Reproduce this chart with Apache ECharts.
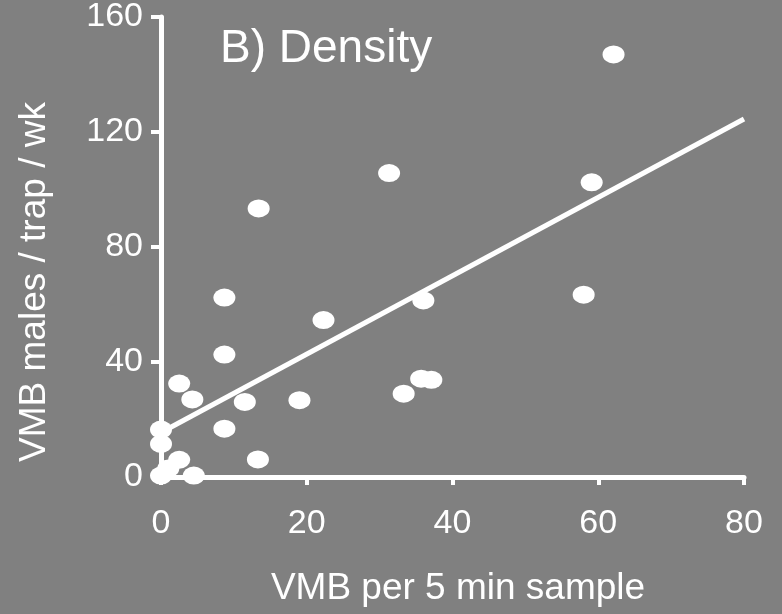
<!DOCTYPE html>
<html>
<head>
<meta charset="utf-8">
<script src="https://cdn.jsdelivr.net/npm/echarts@6/dist/echarts.min.js"></script>
<style>
  html, body { margin: 0; padding: 0; background: #808080; }
  #chart { width: 782px; height: 614px; }
</style>
</head>
<body>
<div id="chart"></div>
<script>
// data
var sampleX = [0, 1, 2.5, 4.5, 0, 0, 2.5, 4.3, 8.7, 8.7, 8.7, 11.5, 13.3, 13.4,
               19, 22.3, 31.3, 33.3, 35.7, 37.1, 36, 58, 59.1, 62.1];
var trapY = [0.5, 3, 6, 0.5, 11.5, 16.5, 32.5, 27, 16.8, 42.6, 62.4, 26.1, 6.1, 93.4,
             26.7, 54.6, 105.7, 29, 34.2, 33.8, 61.4, 63.4, 102.5, 147];
// regression line end points
var fitX = [0, 80];
var fitY = [15.5, 124.5];
var xTicks = [0, 20, 40, 60, 80];
var yTicks = [0, 40, 80, 120, 160];

var chart = echarts.init(document.getElementById('chart'));

var points = sampleX.map(function (x, i) { return [x, trapY[i]]; });
var fitLine = fitX.map(function (x, i) { return [x, fitY[i]]; });

var font = 'Liberation Sans, Arial, sans-serif';

var option = {
  backgroundColor: '#808080',
  animation: false,
  grid: { left: 161, right: 38, top: 15, bottom: 137 },
  xAxis: {
    type: 'value',
    min: xTicks[0], max: xTicks[xTicks.length - 1], interval: 20,
    splitLine: { show: false },
    axisLine: { lineStyle: { color: '#fff', width: 5 } },
    axisTick: { lineStyle: { color: '#fff', width: 4 }, length: 8 },
    axisLabel: { color: '#fff', fontSize: 34, fontFamily: font, margin: 30 }
  },
  yAxis: {
    type: 'value',
    min: yTicks[0], max: yTicks[yTicks.length - 1], interval: 40,
    splitLine: { show: false },
    axisLine: { show: true, lineStyle: { color: '#fff', width: 5 } },
    axisTick: { show: true, lineStyle: { color: '#fff', width: 4 }, length: 10 },
    axisLabel: { color: '#fff', fontSize: 34, fontFamily: font, margin: 18 }
  },
  graphic: [
    {
      type: 'text', left: 220, top: 26,
      style: { text: 'B) Density', fill: '#fff', font: '46px ' + font }
    },
    {
      type: 'text', x: 458, y: 589,
      style: { text: 'VMB per 5 min sample', fill: '#fff', font: '37px ' + font,
               textAlign: 'center', textVerticalAlign: 'middle' }
    },
    {
      type: 'text', x: 35, y: 282, rotation: Math.PI / 2,
      style: { text: 'VMB males / trap / wk', fill: '#fff', font: '37px ' + font,
               textAlign: 'center', textVerticalAlign: 'middle' }
    }
  ],
  series: [
    {
      type: 'line',
      data: fitLine,
      showSymbol: false,
      lineStyle: { color: '#fff', width: 5 },
      z: 2
    },
    {
      type: 'scatter',
      data: points,
      symbol: 'circle',
      symbolSize: [22, 18],
      itemStyle: { color: '#fff', opacity: 1 },
      z: 3
    }
  ]
};

chart.setOption(option);
</script>
</body>
</html>
